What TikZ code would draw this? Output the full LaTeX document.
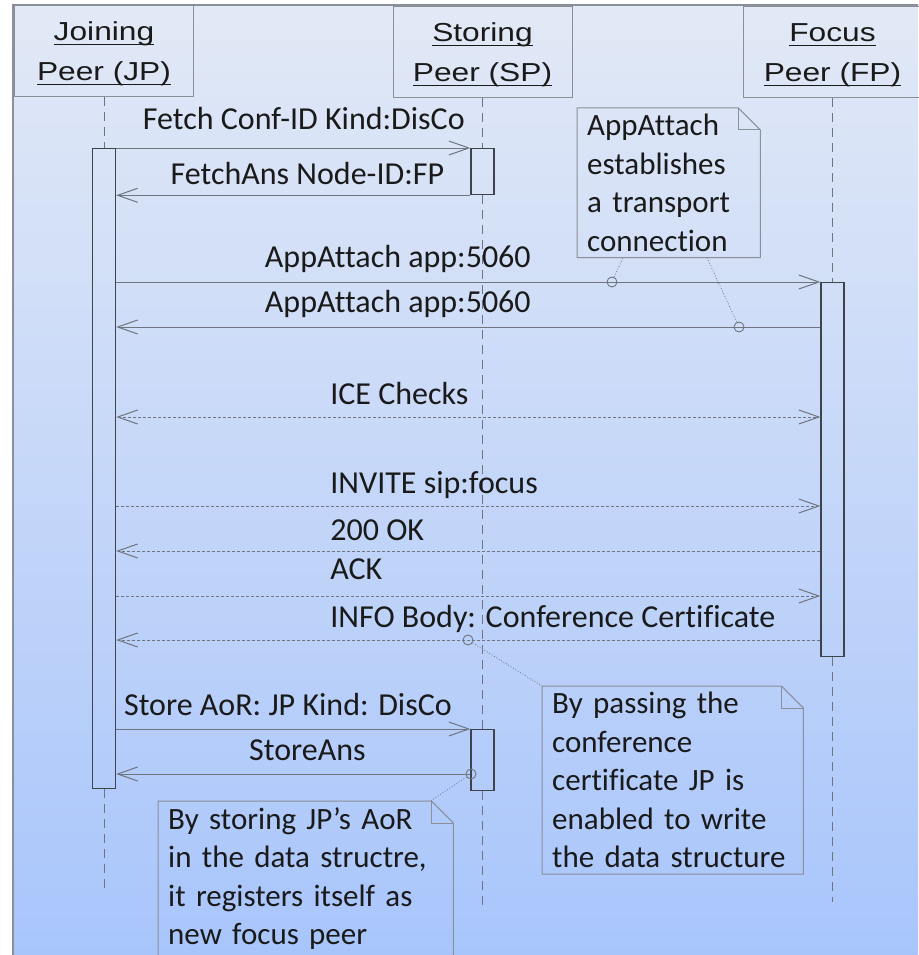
\documentclass[tikz,border=0pt]{standalone}
\usepackage{fontspec}
\setmainfont{Carlito}[Ligatures=NoCommon]
\newfontfamily\hdrfont[FakeStretch=1.22]{Liberation Sans}
\usetikzlibrary{arrows.meta}

\definecolor{bgtop}{HTML}{E2E9F6}
\definecolor{bgbot}{HTML}{A8C5FB}
\definecolor{linegray}{HTML}{6F747E}
\definecolor{bargray}{HTML}{3E434C}
\definecolor{boxgray}{HTML}{8A8F99}
\definecolor{ink}{HTML}{1A1A1A}

\newcommand\hdrul[1]{\setbox0\hbox{#1}\rlap{\rule[-4.5pt]{\wd0}{1.4pt}}\box0}
\newcommand\dognote[1]{%
  \draw[noteline] (#1.north west) -- ([xshift=-22pt]#1.north east) -- ([yshift=-22pt]#1.north east)
    -- (#1.south east) -- (#1.south west) -- cycle;
  \draw[noteline] ([xshift=-22pt]#1.north east) |- ([yshift=-22pt]#1.north east);}

\tikzset{
  peer/.style={draw=boxgray, line width=1pt, minimum width=179pt, minimum height=91pt,
    align=center, text=ink, font=\hdrfont\fontsize{26}{40}\selectfont},
  life/.style={draw=linegray, line width=1pt, dash pattern=on 9pt off 6pt},
  bar/.style={draw=bargray, line width=1.3pt, minimum width=23pt, inner sep=0pt, anchor=north},
  msg/.style={draw=linegray, line width=1pt, -{Straight Barb[length=20pt,width=14pt]}},
  reply/.style={msg, dash pattern=on 3pt off 2pt},
  lbl/.style={font=\fontsize{32}{38}\selectfont, text=ink, anchor=base, yshift=13pt, inner sep=0pt},
  lbll/.style={lbl, anchor=base west},
  notetxt/.style={anchor=north west, align=left, inner xsep=10pt, inner ysep=6pt,
    text=ink, font=\fontsize{31}{38.5}\selectfont},
  noteline/.style={draw=boxgray, line width=1pt},
  link/.style={draw=linegray, line width=0.8pt, dotted},
  dot/.style={circle, draw=linegray, line width=0.9pt, minimum size=10pt, inner sep=0pt},
}

\begin{document}
\begin{tikzpicture}[x=1pt, y=-1pt]
  \useasboundingbox (0,0) rectangle (918,955);
  \shade[top color=bgtop, bottom color=bgbot] (13,5) rectangle (918,955);
  \draw[boxgray, line width=1.2pt] (13,955) -- (13,5) -- (918,5);

  % peers
  \node[peer] (jp) at (104,51) {\rule{0pt}{25pt}\hdrul{Joining}\\\hdrul{Peer (JP)}};
  \node[peer] (sp) at (482.5,52) {\rule{0pt}{25pt}\hdrul{Storing}\\\hdrul{Peer (SP)}};
  \node[peer] (fp) at (832.5,52) {\rule{0pt}{25pt}\hdrul{Focus}\\\hdrul{Peer (FP)}};

  % activations
  \node[bar, minimum height=640pt] (jpbar) at (104,148) {};
  \node[bar, minimum height=46pt] (spbar1) at (482.5,148) {};
  \node[bar, minimum height=61pt] (spbar2) at (482.5,729) {};
  \node[bar, minimum height=374pt] (fpbar) at (832.5,282) {};

  \coordinate (jpend) at (104,890);
  \coordinate (spend) at (482.5,908);
  \coordinate (fpend) at (832.5,902);
  \draw[life] (jp.south) -- (jpbar.north);
  \draw[life] (jpbar.south) -- (jpend);
  \draw[life] (sp.south) -- (spbar1.north);
  \draw[life] (spbar1.south) -- (spbar2.north);
  \draw[life] (spbar2.south) -- (spend);
  \draw[life] (fp.south) -- (fpbar.north);
  \draw[life] (fpbar.south) -- (fpend);

  \coordinate (r4) at (0,327);
  \coordinate (r5) at (0,417);
  \coordinate (r6) at (0,506);
  \coordinate (r7) at (0,551);
  \coordinate (r8) at (0,596);
  \coordinate (r9) at (0,640);
  \coordinate (r11) at (0,774);

  % messages
  \draw[msg] (jpbar.east |- spbar1.north) -- node[lbl, pos=.53, yshift=5pt] {Fetch Conf-ID Kind:DisCo} (spbar1.north west);
  \draw[msg] (spbar1.south west) -- node[lbl, pos=.46, yshift=-2pt] {FetchAns Node-ID:FP} (jpbar.east |- spbar1.south);
  \draw[msg] (jpbar.east |- fpbar.north) -- node[lbl, pos=.40, yshift=2pt] {AppAttach app:5060} (fpbar.north west);
  \draw[msg] (fpbar.west |- r4) -- node[lbl, pos=.60, yshift=2pt] {AppAttach app:5060} (jpbar.east |- r4);
  \draw[reply, {Straight Barb[length=20pt,width=14pt]}-{Straight Barb[length=20pt,width=14pt]}]
    (jpbar.east |- r5) -- node[lbll, pos=.3035] {ICE Checks} (fpbar.west |- r5);
  \draw[reply] (jpbar.east |- r6) -- node[lbll, pos=.3035] {INVITE sip:focus} (fpbar.west |- r6);
  \draw[reply] (fpbar.west |- r7) -- node[lbll, pos=.6965, yshift=-2pt] {200 OK} (jpbar.east |- r7);
  \draw[reply] (jpbar.east |- r8) -- node[lbll, pos=.3035, yshift=4pt] {ACK} (fpbar.west |- r8);
  \draw[reply] (fpbar.west |- r9) -- node[lbll, pos=.6965] {INFO Body: Conference Certificate} (jpbar.east |- r9);
  \draw[msg] (jpbar.east |- spbar2.north) -- node[lbl, pos=.485, yshift=1pt] {Store AoR: JP Kind: DisCo} (spbar2.north west);
  \draw[msg] (spbar2.west |- r11) -- node[lbl, pos=.46, yshift=1pt] {StoreAns} (jpbar.east |- r11);

  % notes
  \node[notetxt, text width=163pt] (n1) at (577,108) {AppAttach\\establishes\\a transport\\connection};
  \dognote{n1}
  \node[notetxt, text width=241pt] (n2) at (542,686) {By passing the\\conference\\certificate JP is\\enabled to write\\the data structure};
  \dognote{n2}
  \node[notetxt, text width=275pt] (n3) at (158,801) {By storing JP{\char39}s AoR\\in the data structre,\\it registers itself as\\new focus peer};
  \dognote{n3}

  \node[dot] (d1) at (612,282) {};
  \node[dot] (d2) at (739,327) {};
  \node[dot] (d3) at (468,640) {};
  \node[dot] (d4) at (471,774) {};
  \draw[link] (d1) -- ([xshift=46pt]n1.south west);
  \draw[link] (d2) -- ([xshift=130pt]n1.south west);
  \draw[link] (d3) -- (n2.north west);
  \draw[link] (d4) -- ([xshift=-23pt]n3.north east);
\end{tikzpicture}
\end{document}
